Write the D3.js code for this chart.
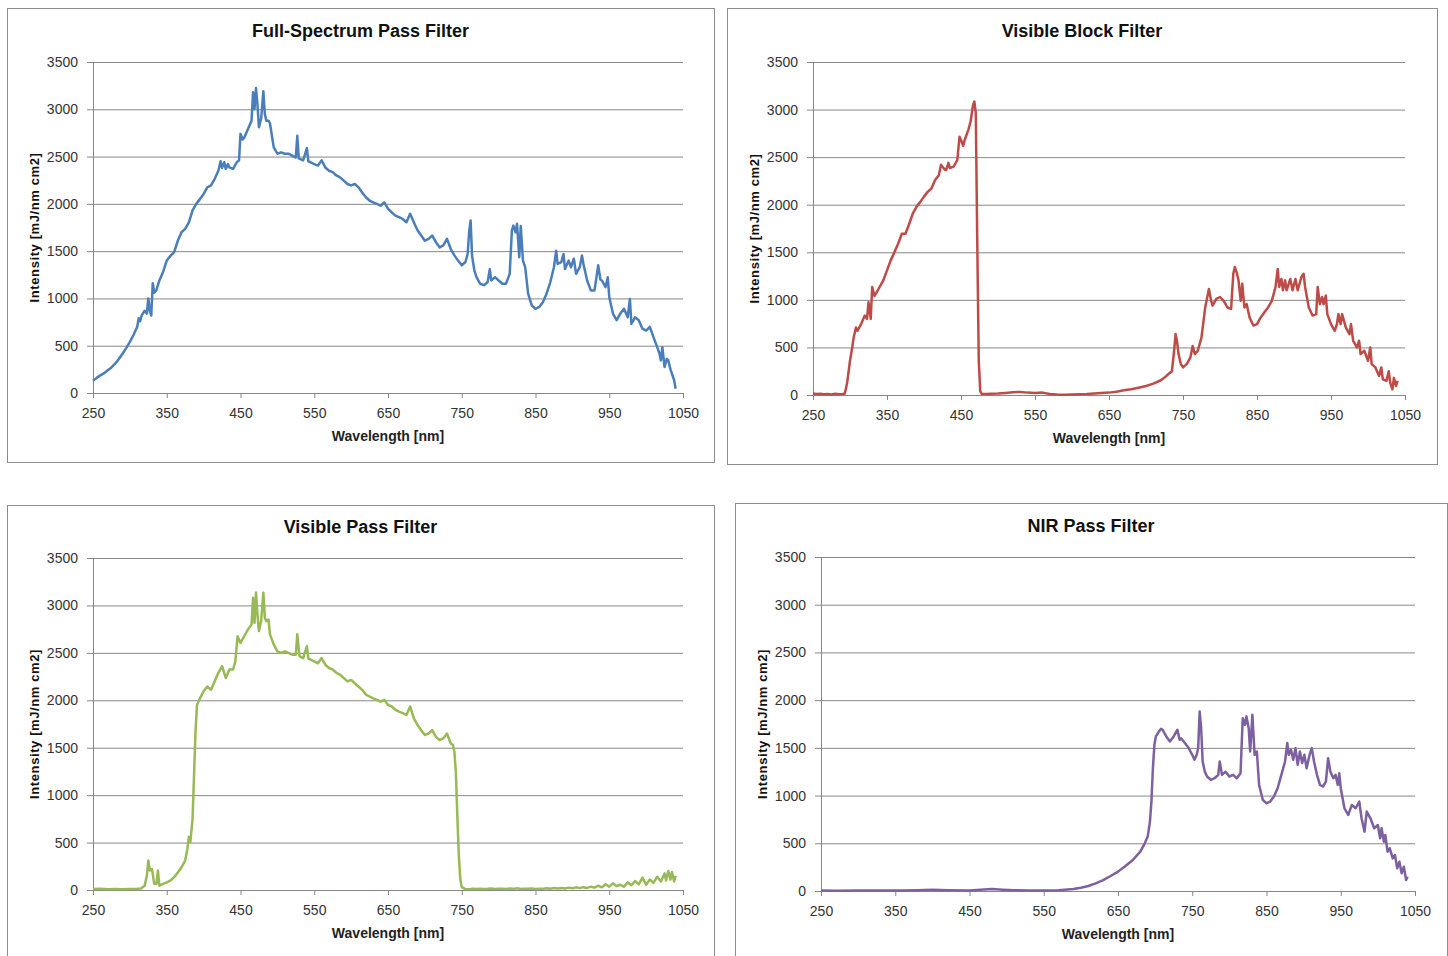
<!DOCTYPE html>
<html>
<head>
<meta charset="utf-8">
<script src="https://cdn.jsdelivr.net/npm/d3@7"></script>
<style>
  body { margin: 0; background: #fff; }
  svg text { font-family: "Liberation Sans", Arial, sans-serif; }
</style>
</head>
<body>
<svg></svg>
<script>
const xTicks = [250, 350, 450, 550, 650, 750, 850, 950, 1050];
const yTicks = [0, 500, 1000, 1500, 2000, 2500, 3000, 3500];
const titles = ['Full-Spectrum Pass Filter', 'Visible Block Filter', 'Visible Pass Filter', 'NIR Pass Filter'];
const colors = ['#4a7ebb', '#be4b48', '#98b954', '#7d60a0'];

// [wavelength nm, intensity]
const fullSpectrum = [[250,130],[255,160],[260,187],[265,210],[270,240],[275,270],[280,310],[285,360],[290,415],[295,475],[300,540],[305,615],[310,700],[312,790],[314,760],[316,820],[320,870],[323,840],[325,1000],[327,870],[329,820],[331,1160],[333,1060],[336,1090],[340,1190],[345,1280],[350,1400],[355,1450],[360,1490],[365,1610],[370,1700],[375,1735],[380,1805],[385,1930],[390,2000],[395,2050],[400,2105],[405,2175],[410,2195],[415,2265],[420,2350],[423,2450],[425,2380],[428,2440],[430,2370],[433,2420],[435,2385],[440,2370],[445,2440],[448,2460],[450,2740],[453,2680],[455,2700],[460,2790],[465,2880],[467,3180],[469,3000],[471,3225],[473,3050],[475,2810],[478,2900],[481,3190],[483,2950],[485,2880],[488,2880],[490,2850],[495,2600],[500,2530],[505,2545],[510,2530],[515,2530],[520,2510],[525,2490],[527,2720],[529,2480],[535,2460],[540,2590],[542,2450],[545,2440],[550,2420],[555,2405],[560,2460],[565,2385],[570,2350],[575,2335],[580,2300],[585,2280],[590,2245],[595,2210],[600,2195],[605,2210],[610,2175],[615,2120],[620,2070],[625,2035],[630,2015],[635,2000],[640,1980],[645,2015],[650,1950],[655,1910],[660,1875],[665,1860],[670,1840],[675,1805],[680,1895],[685,1805],[690,1720],[695,1665],[700,1610],[705,1630],[710,1665],[715,1595],[720,1540],[725,1560],[730,1630],[735,1525],[740,1455],[745,1400],[750,1350],[755,1385],[758,1470],[760,1700],[762,1825],[764,1450],[767,1300],[770,1225],[775,1155],[780,1140],[785,1170],[788,1310],[790,1190],[795,1225],[800,1190],[805,1155],[810,1155],[815,1260],[818,1720],[820,1770],[823,1700],[825,1790],[828,1435],[830,1765],[833,1400],[836,1330],[840,1050],[845,925],[850,890],[855,910],[860,960],[865,1050],[870,1170],[875,1330],[878,1505],[880,1365],[885,1385],[888,1470],[890,1310],[895,1400],[898,1330],[902,1420],[905,1260],[910,1330],[913,1455],[915,1365],[920,1190],[925,1085],[930,1085],[935,1350],[938,1200],[940,1190],[945,1120],[948,1225],[950,1015],[955,840],[960,770],[965,840],[970,890],[975,800],[978,995],[980,730],[985,800],[990,770],[995,680],[1000,660],[1005,700],[1010,590],[1015,485],[1018,420],[1020,345],[1022,485],[1025,275],[1028,360],[1030,345],[1033,250],[1035,205],[1038,135],[1040,45]];

const visibleBlock = [[250,15],[255,10],[260,12],[265,8],[270,10],[275,6],[280,12],[285,8],[290,10],[293,15],[296,120],[300,360],[303,500],[305,605],[308,710],[310,675],[315,745],[320,835],[323,800],[325,975],[328,800],[330,1135],[333,1040],[335,1065],[340,1135],[345,1205],[350,1310],[355,1415],[360,1500],[365,1590],[370,1695],[375,1695],[380,1800],[385,1910],[390,1980],[395,2030],[400,2085],[405,2135],[410,2170],[415,2260],[420,2310],[423,2420],[425,2400],[428,2370],[430,2365],[433,2440],[435,2385],[440,2400],[445,2470],[448,2715],[450,2680],[453,2620],[455,2680],[460,2790],[463,2875],[466,3035],[468,3085],[470,2965],[472,1590],[474,360],[476,40],[478,12],[485,10],[490,12],[500,15],[510,22],[520,30],[530,32],[540,25],[550,20],[560,25],[570,10],[580,5],[590,3],[600,5],[610,8],[620,10],[630,15],[640,20],[650,25],[660,35],[670,50],[680,60],[690,77],[700,95],[710,120],[720,155],[725,183],[730,218],[735,250],[738,465],[740,640],[742,560],[744,430],[747,325],[750,290],[755,325],[760,395],[763,515],[766,430],[770,465],[775,605],[780,920],[785,1115],[788,990],[790,940],[795,1010],[800,1030],[805,990],[810,920],[815,905],[818,1275],[820,1345],[823,1275],[825,1205],[828,990],[830,1170],[833,920],[836,955],[840,815],[845,730],[850,745],[855,815],[860,870],[865,920],[870,990],[875,1135],[878,1325],[880,1135],[883,1220],[885,1100],[888,1205],[890,1100],[895,1220],[898,1100],[902,1220],[905,1100],[910,1240],[913,1275],[915,1135],[920,920],[925,835],[930,850],[932,1135],[935,955],[938,1030],[940,955],[943,1045],[945,850],[950,745],[955,675],[958,745],[960,850],[963,745],[965,850],[970,710],[975,640],[977,745],[980,570],[985,500],[988,570],[990,430],[995,465],[1000,360],[1003,500],[1005,325],[1010,290],[1015,200],[1018,290],[1020,165],[1025,150],[1028,250],[1030,130],[1033,60],[1035,180],[1038,95],[1040,150]];

const visiblePass = [[250,10],[260,12],[270,8],[280,10],[290,8],[300,10],[310,12],[315,15],[320,45],[323,150],[325,310],[327,205],[330,220],[333,65],[336,65],[338,205],[340,45],[345,65],[350,80],[355,100],[360,135],[365,185],[370,240],[375,310],[378,435],[380,560],[382,505],[385,750],[387,1210],[389,1670],[391,1950],[393,1985],[395,2020],[400,2095],[405,2145],[410,2110],[415,2200],[420,2290],[425,2360],[430,2235],[435,2325],[440,2325],[443,2410],[446,2675],[450,2605],[455,2675],[460,2745],[465,2800],[467,3080],[469,2815],[471,3135],[473,2905],[475,2730],[478,2835],[481,3135],[483,2870],[485,2835],[488,2850],[490,2695],[495,2590],[500,2515],[505,2500],[510,2515],[515,2500],[520,2480],[525,2480],[527,2695],[530,2465],[535,2445],[540,2570],[542,2440],[545,2430],[550,2410],[555,2390],[560,2445],[565,2375],[570,2340],[575,2325],[580,2290],[585,2270],[590,2235],[595,2200],[600,2215],[605,2180],[610,2145],[615,2110],[620,2060],[625,2040],[630,2020],[635,2005],[640,1985],[645,2005],[650,1950],[655,1935],[660,1900],[665,1880],[670,1865],[675,1845],[680,1935],[685,1810],[690,1740],[695,1685],[700,1635],[705,1650],[710,1685],[715,1615],[720,1580],[725,1600],[730,1650],[735,1545],[738,1530],[740,1460],[742,1245],[744,785],[746,365],[748,115],[750,30],[755,10],[760,8],[765,12],[770,10],[775,14],[780,10],[785,12],[790,15],[795,10],[800,12],[805,14],[810,10],[815,15],[820,12],[825,18],[830,10],[835,14],[840,12],[845,16],[850,10],[855,14],[860,12],[865,18],[870,14],[875,20],[880,15],[885,22],[890,16],[895,25],[900,18],[905,28],[910,20],[915,30],[920,22],[925,35],[930,25],[935,45],[940,28],[945,60],[950,35],[955,70],[960,40],[965,55],[970,35],[975,80],[980,50],[985,95],[990,60],[995,130],[1000,55],[1005,110],[1010,75],[1015,140],[1020,90],[1025,175],[1027,100],[1030,200],[1033,110],[1035,190],[1038,90],[1040,150]];

const nirPass = [[250,5],[270,3],[300,4],[330,5],[360,6],[380,8],[400,12],[420,8],[450,6],[465,12],[480,20],[495,14],[510,8],[530,5],[550,5],[570,7],[590,20],[600,35],[610,52],[620,80],[630,115],[640,157],[650,203],[660,262],[670,325],[680,413],[685,483],[690,570],[693,727],[695,937],[697,1287],[699,1532],[701,1620],[705,1670],[708,1700],[710,1690],[715,1620],[720,1567],[725,1620],[730,1690],[733,1585],[735,1600],[740,1550],[745,1500],[750,1427],[753,1375],[756,1427],[758,1500],[760,1880],[762,1705],[764,1357],[767,1250],[770,1200],[775,1165],[780,1182],[785,1217],[787,1357],[790,1217],[795,1250],[800,1200],[805,1217],[810,1182],[815,1234],[818,1811],[821,1741],[823,1830],[826,1705],[828,1462],[831,1846],[834,1427],[837,1462],[840,1112],[845,955],[850,920],[855,937],[860,990],[865,1077],[870,1217],[875,1357],[878,1550],[880,1427],[883,1480],[886,1375],[889,1497],[892,1322],[895,1462],[898,1340],[901,1427],[904,1287],[908,1427],[911,1497],[914,1357],[918,1217],[922,1112],[926,1095],[930,1147],[933,1392],[936,1252],[940,1182],[943,1217],[946,1112],[948,1234],[950,1077],[955,867],[960,797],[965,902],[970,867],[975,937],[978,762],[982,622],[985,832],[990,762],[995,657],[1000,692],[1003,552],[1005,657],[1008,517],[1010,587],[1013,412],[1016,447],[1020,342],[1023,377],[1026,238],[1029,307],[1032,185],[1035,255],[1038,115],[1040,150]];

const series = [fullSpectrum, visibleBlock, visiblePass, nirPass];

// panel frame [x, y, w, h] and plot area [left, right, top, bottom]
const layout = [
    { box: [7, 8, 707, 454], plot: [93, 683, 62, 393] },
    { box: [727, 8, 710, 456], plot: [813, 1405, 62, 395] },
    { box: [7, 505, 707, 460], plot: [93, 683, 558, 890] },
    { box: [735, 503, 712, 460], plot: [821, 1415, 557, 891] }
];

const svg = d3.select('svg')
    .attr('width', 1448)
    .attr('height', 956);

const gridColor = '#878787';
const plainNum = d3.format('d');

series.forEach((data, i) => {
    const L = layout[i];
    const [left, right, top, bottom] = L.plot;
    const g = svg.append('g');

    g.append('rect')
        .attr('x', L.box[0] + 0.5)
        .attr('y', L.box[1] + 0.5)
        .attr('width', L.box[2])
        .attr('height', L.box[3])
        .attr('fill', '#fff')
        .attr('stroke', '#8c8c8c');

    const x = d3.scaleLinear().domain([250, 1050]).range([left, right]);
    const y = d3.scaleLinear().domain([0, 3500]).range([bottom, top]);

    // gridlines
    g.append('g')
        .attr('transform', `translate(${left},0)`)
        .call(d3.axisLeft(y).tickValues(yTicks).tickSize(-(right - left)).tickFormat(''))
        .call(s => s.select('.domain').remove())
        .selectAll('line').attr('stroke', gridColor);

    // y axis
    const ya = g.append('g')
        .attr('transform', `translate(${left},0)`)
        .call(d3.axisLeft(y).tickValues(yTicks).tickFormat(plainNum).tickSize(6).tickSizeOuter(0).tickPadding(9));
    ya.select('.domain').attr('stroke', gridColor);
    ya.selectAll('line').attr('stroke', gridColor);
    ya.selectAll('text').attr('fill', '#333').style('font-size', '14px')
        .style('font-family', '"Liberation Sans", Arial, sans-serif');

    // x axis
    const xa = g.append('g')
        .attr('transform', `translate(0,${bottom})`)
        .call(d3.axisBottom(x).tickValues(xTicks).tickFormat(plainNum).tickSize(5).tickSizeOuter(0).tickPadding(10));
    xa.select('.domain').attr('stroke', gridColor);
    xa.selectAll('line').attr('stroke', gridColor);
    xa.selectAll('text').attr('fill', '#333').style('font-size', '14px')
        .style('font-family', '"Liberation Sans", Arial, sans-serif');

    // series line
    g.append('path')
        .datum(data)
        .attr('fill', 'none')
        .attr('stroke', colors[i])
        .attr('stroke-width', 2.5)
        .attr('stroke-linejoin', 'round')
        .attr('d', d3.line().x(d => x(d[0])).y(d => y(d[1])));

    // title
    g.append('text')
        .attr('x', L.box[0] + L.box[2] / 2)
        .attr('y', top - 25)
        .attr('text-anchor', 'middle')
        .style('font-size', '18px')
        .style('font-weight', 'bold')
        .attr('fill', '#111')
        .text(titles[i]);

    // axis titles
    g.append('text')
        .attr('x', (left + right) / 2)
        .attr('y', bottom + 48)
        .attr('text-anchor', 'middle')
        .style('font-size', '14px')
        .style('font-weight', 'bold')
        .attr('fill', '#222')
        .text('Wavelength [nm]');

    g.append('text')
        .attr('transform', `translate(${left - 54},${(top + bottom) / 2}) rotate(-90)`)
        .attr('text-anchor', 'middle')
        .style('font-size', '13px')
        .style('font-weight', 'bold')
        .style('letter-spacing', '0.6px')
        .attr('fill', '#111')
        .text('Intensity [mJ/nm cm2]');
});
</script>
</body>
</html>
